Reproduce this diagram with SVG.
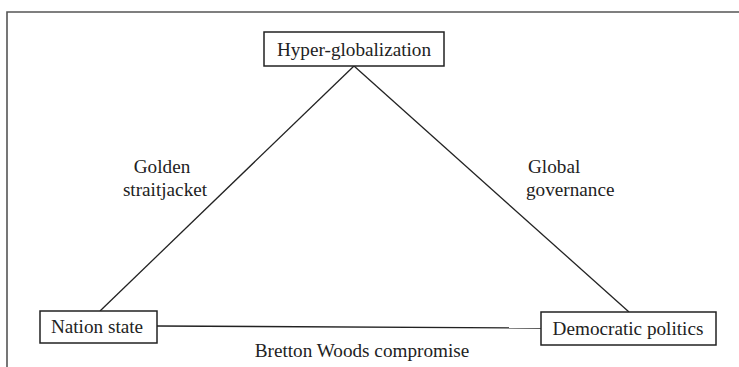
<svg xmlns="http://www.w3.org/2000/svg" width="739" height="367" viewBox="0 0 739 367">
<style>
.box{fill:#fff;stroke:#222;stroke-width:1.5}
.lbl{font-family:'Liberation Serif','Times New Roman',serif;font-size:19.2px;fill:#222}
.edge{stroke:#222;stroke-width:1.3;fill:none}
</style>
<rect width="739" height="367" fill="#fff"/>
<path d="M7,367 V12 H739" fill="none" stroke="#555" stroke-width="1.6"/>
<g id="connectors">
<line class="edge" x1="354" y1="66" x2="100" y2="311"/>
<line class="edge" x1="354" y1="66" x2="629" y2="312"/>
<line class="edge" x1="157" y1="326" x2="541" y2="328"/>
<text class="lbl" x="162" y="173" text-anchor="middle">Golden</text>
<text class="lbl" x="165" y="196" text-anchor="middle">straitjacket</text>
<text class="lbl" x="528" y="173">Global</text>
<text class="lbl" x="526" y="196">governance</text>
<text class="lbl" x="362" y="357" text-anchor="middle">Bretton Woods compromise</text>
</g>
<g id="hyper">
<rect class="box" x="264" y="32" width="180" height="34"/>
<text class="lbl" x="354" y="55.5" text-anchor="middle">Hyper-globalization</text>
</g>
<g id="nation">
<rect class="box" x="40" y="311" width="117" height="32"/>
<text class="lbl" x="97" y="333" text-anchor="middle">Nation state</text>
</g>
<g id="democratic">
<rect class="box" x="541" y="312" width="175" height="33"/>
<text class="lbl" x="628" y="334.5" text-anchor="middle">Democratic politics</text>
</g>
</svg>
